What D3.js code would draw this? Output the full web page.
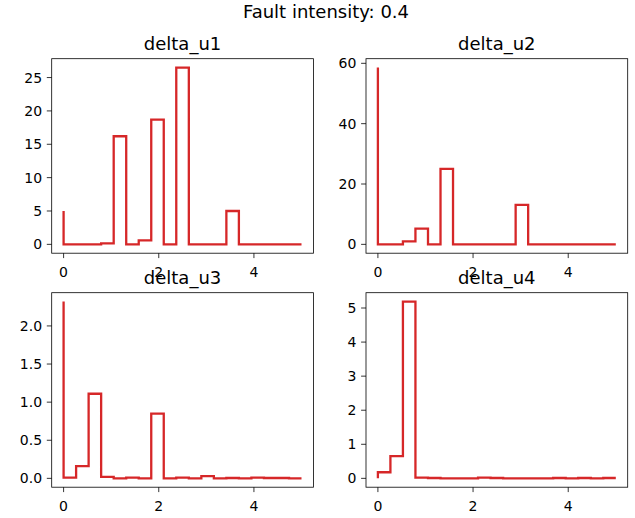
<!DOCTYPE html>
<html>
<head>
<meta charset="utf-8">
<script src="https://cdn.jsdelivr.net/npm/d3@7"></script>
<style>
  body { margin: 0; background: #fff; }
  text { font-family: "DejaVu Sans", sans-serif; fill: #000; }
</style>
</head>
<body>
<script>
'use strict';

// sample times (step plot, "pre")
var time = [0, 0.263, 0.526, 0.789, 1.053, 1.316, 1.579, 1.842, 2.105, 2.368,
  2.632, 2.895, 3.158, 3.421, 3.684, 3.947, 4.211, 4.474, 4.737, 5.0];

var deltaU1 = [5.0, 0, 0, 0, 0.15, 16.2, 0, 0.6, 18.7, 0,
  26.5, 0, 0, 0, 5.0, 0, 0, 0, 0, 0];
var deltaU2 = [58.6, 0, 0, 1.0, 5.2, 0, 25.0, 0, 0, 0,
  0, 0, 13.1, 0, 0, 0, 0, 0, 0, 0];
var deltaU3 = [2.32, 0.01, 0.16, 1.11, 0.02, 0.0, 0.01, 0.0, 0.85, 0.0,
  0.01, 0.0, 0.03, 0.0, 0.005, 0.0, 0.01, 0.005, 0.005, 0.0];
var deltaU4 = [0, 0.18, 0.65, 5.19, 0.02, 0.01, 0.0, 0.0, 0.0, 0.02,
  0.01, 0.0, 0.0, 0.0, 0.0, 0.01, 0.0, 0.01, 0.0, 0.01];

var titles = ["delta_u1", "delta_u2", "delta_u3", "delta_u4"];
var xTicks = [0, 2, 4];
var yTicks = [
  [0, 5, 10, 15, 20, 25],
  [0, 20, 40, 60],
  [0, 0.5, 1.0, 1.5, 2.0],
  [0, 1, 2, 3, 4, 5]
];
var yFormats = [d3.format("d"), d3.format("d"), d3.format(".1f"), d3.format("d")];
var series = [deltaU1, deltaU2, deltaU3, deltaU4];

var width = 635;
var height = 518;

var cols = [51.7, 366];
var rows = [58.7, 292.7];
var axW = 261.7;
var axH = 194.5;

var svg = d3.select("body").append("svg")
    .attr("width", width)
    .attr("height", height);

svg.append("text")
    .attr("x", 326)
    .attr("y", 18)
    .attr("text-anchor", "middle")
    .style("font-size", "18px")
    .text("Fault intensity: 0.4");

// matplotlib style 5% margins
function padded(ext) {
  var m = (ext[1] - ext[0]) * 0.05;
  return [ext[0] - m, ext[1] + m];
}

series.forEach(function (vals, i) {
  var left = cols[i % 2];
  var top = rows[Math.floor(i / 2)];

  var g = svg.append("g")
      .attr("transform", "translate(" + left + "," + top + ")");

  var x = d3.scaleLinear()
      .domain(padded(d3.extent(time)))
      .range([0, axW]);

  var y = d3.scaleLinear()
      .domain(padded(d3.extent(vals)))
      .range([axH, 0]);

  var pts = time.map(function (t, k) { return [t, vals[k]]; });

  var line = d3.line()
      .x(d => x(d[0]))
      .y(d => y(d[1]))
      .curve(d3.curveStepBefore);

  g.append("path")
      .datum(pts)
      .attr("fill", "none")
      .attr("stroke", "#d62728")
      .attr("stroke-width", 2.3)
      .attr("d", line);

  // x ticks
  var xg = g.append("g").attr("transform", "translate(0," + axH + ")");
  xTicks.forEach(function (t) {
    xg.append("line")
        .attr("x1", x(t)).attr("x2", x(t))
        .attr("y1", 0).attr("y2", 4.9)
        .attr("stroke", "#000").attr("stroke-width", 0.8);
    xg.append("text")
        .attr("x", x(t))
        .attr("y", 24)
        .attr("text-anchor", "middle")
        .style("font-size", "14px")
        .text(t);
  });

  // y ticks
  yTicks[i].forEach(function (t) {
    g.append("line")
        .attr("x1", -4.9).attr("x2", 0)
        .attr("y1", y(t)).attr("y2", y(t))
        .attr("stroke", "#000").attr("stroke-width", 0.8);
    g.append("text")
        .attr("x", -9.6)
        .attr("y", y(t) + 5.1)
        .attr("text-anchor", "end")
        .style("font-size", "14px")
        .text(yFormats[i](t));
  });

  g.append("rect")
      .attr("width", axW)
      .attr("height", axH)
      .attr("fill", "none")
      .attr("stroke", "#000")
      .attr("stroke-width", 0.8);

  g.append("text")
      .attr("x", axW / 2)
      .attr("y", -8.5)
      .attr("text-anchor", "middle")
      .style("font-size", "18px")
      .text(titles[i]);
});
</script>
</body>
</html>
